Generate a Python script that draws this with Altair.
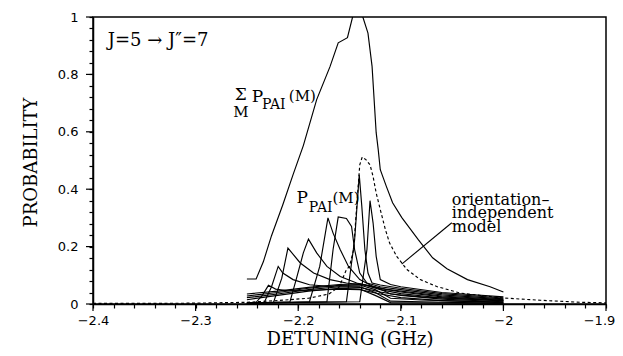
import altair as alt
import pandas as pd

# ---------------- data ----------------
X_MAJOR = [-2.4, -2.3, -2.2, -2.1, -2.0, -1.9]
Y_MAJOR = [0.0, 0.2, 0.4, 0.6, 0.8, 1.0]
X_MINOR = [round(-2.4 + 0.02 * i, 2) for i in range(26)]
Y_MINOR = [round(0.04 * i, 2) for i in range(26)]

# sum over M of P_PAI(M)
sum_x = [-2.250, -2.241, -2.234, -2.226, -2.215, -2.205, -2.195, -2.182, -2.169, -2.161,
         -2.152, -2.147, -2.142, -2.137, -2.132, -2.128, -2.124, -2.122, -2.120, -2.114,
         -2.108, -2.099, -2.083, -2.069, -2.055, -2.035, -2.013, -2.000]
sum_y = [0.087, 0.087, 0.147, 0.238, 0.346, 0.451, 0.552, 0.712, 0.827, 0.910,
         0.928, 1.000, 1.030, 1.000, 0.944, 0.828, 0.597, 0.538, 0.468, 0.409,
         0.353, 0.301, 0.224, 0.161, 0.123, 0.085, 0.060, 0.042]

# orientation-independent model (dashed)
oim_x = [-2.400, -2.350, -2.300, -2.250, -2.220, -2.190, -2.170, -2.160, -2.153, -2.150,
         -2.146, -2.143, -2.140, -2.1376, -2.134, -2.130, -2.127, -2.124, -2.120, -2.115,
         -2.111, -2.104, -2.094, -2.081, -2.065, -2.042, -2.013, -2.000, -1.964, -1.925, -1.900]
oim_y = [0.002, 0.002, 0.003, 0.006, 0.012, 0.020, 0.035, 0.060, 0.120, 0.131,
         0.189, 0.340, 0.485, 0.512, 0.503, 0.485, 0.444, 0.387, 0.329, 0.259,
         0.213, 0.166, 0.120, 0.085, 0.061, 0.038, 0.026, 0.021, 0.013, 0.006, 0.004]

# P_PAI(M) curves with sharp peaks
m1_x = [-2.25, -2.241, -2.235, -2.229, -2.222, -2.21, -2.185, -2.16, -2.14, -2.12, -2.1, -2.06, -2.0]
m1_y = [0.003, 0.006, 0.030, 0.065, 0.052, 0.046, 0.048, 0.052, 0.050, 0.035, 0.022, 0.012, 0.005]
m2_x = [-2.25, -2.233, -2.226, -2.2195, -2.215, -2.205, -2.189, -2.165, -2.14, -2.12, -2.1, -2.06, -2.0]
m2_y = [0.003, 0.006, 0.060, 0.131, 0.108, 0.085, 0.067, 0.060, 0.058, 0.042, 0.030, 0.017, 0.008]
m3_x = [-2.25, -2.224, -2.216, -2.21, -2.198, -2.185, -2.169, -2.153, -2.135, -2.12, -2.1, -2.06, -2.0]
m3_y = [0.003, 0.006, 0.090, 0.195, 0.143, 0.108, 0.085, 0.073, 0.066, 0.050, 0.036, 0.021, 0.011]
m4_x = [-2.25, -2.208, -2.202, -2.195, -2.19, -2.182, -2.172, -2.159, -2.143, -2.125, -2.1, -2.06, -2.0]
m4_y = [0.003, 0.008, 0.085, 0.178, 0.226, 0.178, 0.131, 0.096, 0.073, 0.058, 0.042, 0.025, 0.013]
m5_x = [-2.25, -2.189, -2.179, -2.171, -2.166, -2.159, -2.151, -2.14, -2.127, -2.115, -2.1, -2.06, -2.0]
m5_y = [0.003, 0.008, 0.131, 0.300, 0.247, 0.189, 0.131, 0.085, 0.061, 0.052, 0.045, 0.028, 0.015]
m6_x = [-2.25, -2.172, -2.166, -2.161, -2.153, -2.148, -2.145, -2.14, -2.133, -2.12, -2.1, -2.06, -2.0]
m6_y = [0.003, 0.008, 0.190, 0.303, 0.298, 0.270, 0.189, 0.108, 0.073, 0.060, 0.050, 0.032, 0.018]
m7_x = [-2.25, -2.153, -2.145, -2.1405, -2.138, -2.135, -2.132, -2.128, -2.12, -2.1, -2.06, -2.0]
m7_y = [0.003, 0.008, 0.224, 0.450, 0.340, 0.189, 0.108, 0.073, 0.066, 0.055, 0.036, 0.021]
m8_x = [-2.25, -2.14, -2.133, -2.13, -2.127, -2.124, -2.12, -2.11, -2.1, -2.06, -2.0]
m8_y = [0.003, 0.008, 0.190, 0.360, 0.282, 0.166, 0.085, 0.068, 0.060, 0.040, 0.025]

# broad, low P_PAI(M) curves
broad_x = [-2.25, -2.22, -2.19, -2.16, -2.14, -2.125, -2.11, -2.08, -2.04, -2.0]
b1_y = [0.035, 0.045, 0.058, 0.068, 0.070, 0.060, 0.035, 0.025, 0.018, 0.012]
b2_y = [0.028, 0.040, 0.055, 0.065, 0.066, 0.050, 0.020, 0.014, 0.010, 0.007]
b3_y = [0.022, 0.035, 0.050, 0.060, 0.060, 0.040, 0.010, 0.008, 0.005, 0.003]
b4_y = [0.015, 0.030, 0.045, 0.055, 0.052, 0.030, 0.005, 0.004, 0.003, 0.002]

# annotation leader line
leader_x = [-2.0503, -2.0991]
leader_y = [0.283, 0.139]

MODEL_LINES = ["orientation–", "independent", "model"]

# ---------------- tables ----------------
solid_curves = {
    "sum": (sum_x, sum_y),
    "m1": (m1_x, m1_y), "m2": (m2_x, m2_y), "m3": (m3_x, m3_y), "m4": (m4_x, m4_y),
    "m5": (m5_x, m5_y), "m6": (m6_x, m6_y), "m7": (m7_x, m7_y), "m8": (m8_x, m8_y),
    "b1": (broad_x, b1_y), "b2": (broad_x, b2_y), "b3": (broad_x, b3_y), "b4": (broad_x, b4_y),
}
rows = []
for name, (xs, ys) in solid_curves.items():
    for i, (xv, yv) in enumerate(zip(xs, ys)):
        rows.append({"curve": name, "i": i, "x": xv, "y": yv})
df_solid = pd.DataFrame(rows)
df_dash = pd.DataFrame({"x": oim_x, "y": oim_y, "i": range(len(oim_x))})
df_leader = pd.DataFrame({"x": leader_x, "y": leader_y, "i": [0, 1]})

SERIF = "DejaVu Serif"
SANS = "DejaVu Sans"

x_scale = alt.Scale(domain=[-2.4, -1.9], nice=False, zero=False)
y_scale = alt.Scale(domain=[0, 1], nice=False, zero=False)

x_axis = alt.Axis(
    values=X_MINOR, format="~g",
    labelExpr="abs(datum.value*10 - round(datum.value*10)) < 0.001 ? datum.label : ''",
    labelOffset={"condition": {"test": "datum.value > -1.95", "value": -7}, "value": 0},
    tickSize=4, labelPadding=6, labelFlush=False, labelOverlap=False, grid=False,
    title="DETUNING (GHz)", titleX=256.5, titleY=40, titleAlign="center",
    titleBaseline="alphabetic", titleFont=SERIF, titleFontSize=18, titleFontWeight="normal",
)
y_axis = alt.Axis(
    values=Y_MINOR, format="~g",
    labelExpr="abs(datum.value*5 - round(datum.value*5)) < 0.001 ? datum.label : ''",
    tickSize=4, labelPadding=11, labelOverlap=False, grid=False,
    title="PROBABILITY", titleX=-62, titleY=145, titleAngle=-90, titleAlign="center",
    titleBaseline="middle", titleFont=SERIF, titleFontSize=18, titleFontWeight="normal",
)


def xenc(field):
    return alt.X(f"{field}:Q", scale=x_scale, axis=x_axis)


def yenc(field):
    return alt.Y(f"{field}:Q", scale=y_scale, axis=y_axis)


solid = alt.Chart(df_solid).mark_line(color="black", strokeWidth=1.15, clip=True).encode(
    x=xenc("x"), y=yenc("y"), detail="curve:N", order="i:Q",
)
dashed = alt.Chart(df_dash).mark_line(color="black", strokeWidth=1.15, strokeDash=[3, 2.5], clip=True).encode(
    x=xenc("x"), y=yenc("y"), order="i:Q",
)
leader = alt.Chart(df_leader).mark_line(color="black", strokeWidth=1.1).encode(
    x=xenc("x"), y=yenc("y"), order="i:Q",
)

# longer major ticks
xmaj = alt.Chart(pd.DataFrame({"x": X_MAJOR})).mark_rule(color="black", strokeWidth=1.2).encode(
    x=xenc("x"), y=alt.value(287), y2=alt.value(294))
ymaj = alt.Chart(pd.DataFrame({"y": Y_MAJOR})).mark_rule(color="black", strokeWidth=1.2).encode(
    y=yenc("y"), x=alt.value(0), x2=alt.value(-7))


# annotations
def label(xv, yv, txt, size, align="left", baseline="middle", font=SERIF):
    return alt.Chart(pd.DataFrame({"x": [xv], "y": [yv], "t": [txt]})).mark_text(
        font=font, fontSize=size, align=align, baseline=baseline, color="black"
    ).encode(x=xenc("x"), y=yenc("y"), text="t:N")


model_text = alt.Chart(pd.DataFrame({"x": [-2.0503], "y": [0.3460]})).mark_text(
    text=MODEL_LINES, font=SERIF, fontSize=16, lineHeight=13.5,
    align="left", baseline="alphabetic", color="black",
).encode(x=xenc("x"), y=yenc("y"))

texts = [
    label(-2.3857, 0.900, "J=5 → J″=7", 18, baseline="alphabetic"),
    label(-2.2559, 0.729, "Σ", 17, align="center"),
    label(-2.2559, 0.670, "M", 15, align="center"),
    label(-2.2452, 0.722, "P", 17),
    label(-2.2354, 0.693, "PAI", 14),
    label(-2.2091, 0.724, "(M)", 15),
    label(-2.2016, 0.370, "P", 17),
    label(-2.1896, 0.334, "PAI", 14),
    label(-2.1666, 0.368, "(M)", 15),
    model_text,
]

chart = alt.layer(solid, dashed, leader, xmaj, ymaj, *texts).properties(
    width=513, height=287,
    autosize=alt.AutoSizeParams(type="none"),
    padding={"left": 85, "top": 9, "right": 9, "bottom": 44},
    background="white",
).configure_view(
    stroke="black", strokeWidth=1.5
).configure_axis(
    labelFont=SANS, labelFontSize=13, labelColor="black",
    tickColor="black", tickWidth=1.2, domainColor="black", domainWidth=1.5,
    titleColor="black",
)

chart.save("out.html", embed_options={"renderer": "svg", "actions": False})
